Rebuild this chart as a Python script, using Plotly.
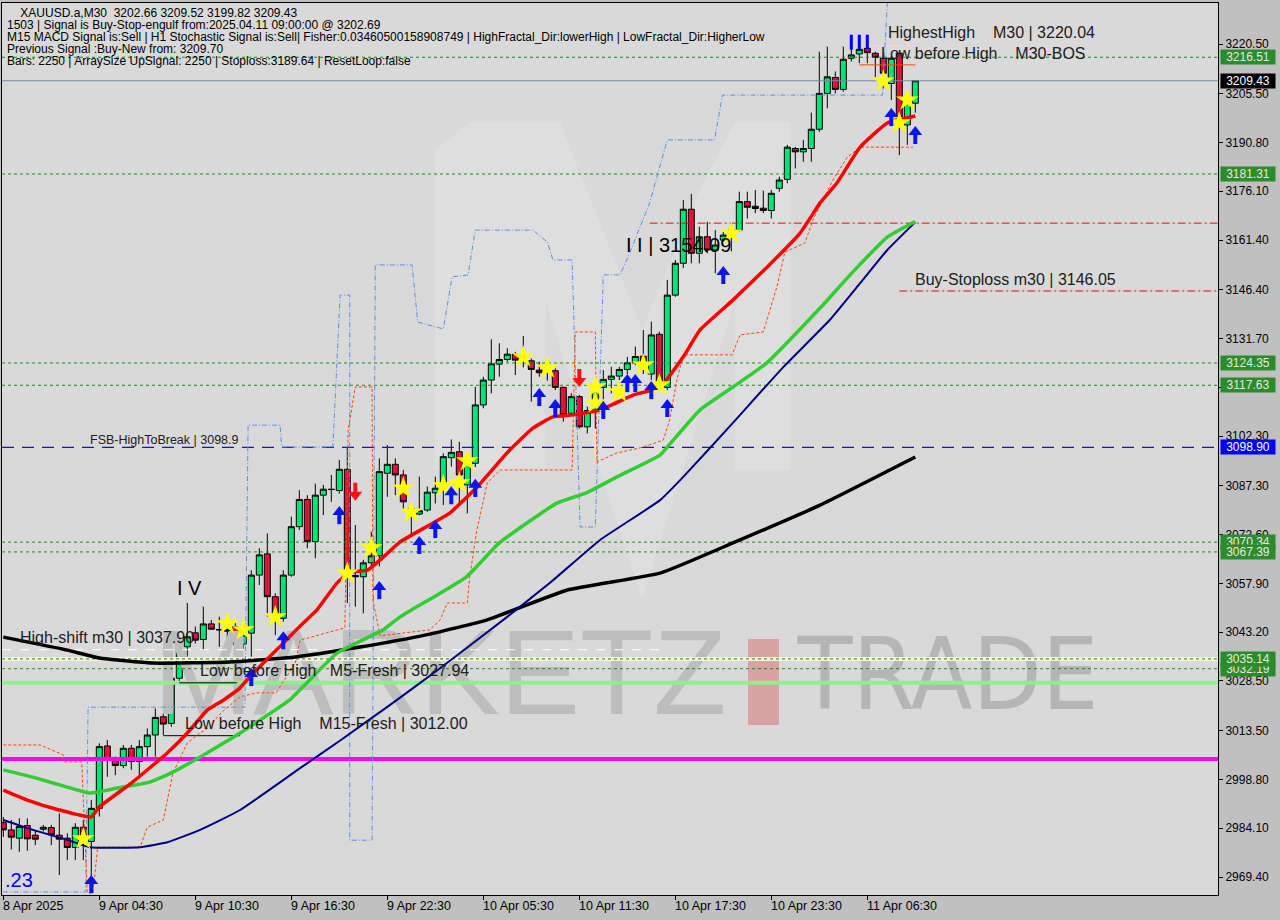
import plotly.graph_objects as go

# ---------------- data ----------------
bar_open = [2985.8, 2983.6, 2981.1, 2984.9, 2982.0, 2983.8, 2984.3, 2982.0, 2981.1, 2978.3,
            2984.4, 2980.1, 2990.1, 3008.9, 3004.6, 3003.0, 3008.2, 3004.2, 3008.7, 3012.2,
            3017.7, 3015.7, 3029.3, 3038.8, 3043.0, 3041.0, 3045.7, 3044.0, 3044.0, 3044.9,
            3039.6, 3042.9, 3060.4, 3066.8, 3053.9, 3047.4, 3060.4, 3075.0, 3083.2, 3070.5,
            3084.5, 3086.3, 3085.9, 3092.3, 3060.3, 3059.9, 3064.1, 3066.2, 3091.1, 3093.8,
            3090.6, 3080.5, 3078.8, 3080.0, 3085.2, 3086.3, 3095.8, 3097.6, 3087.6, 3094.1,
            3111.7, 3119.2, 3124.0, 3125.4, 3127.0, 3125.5, 3125.0, 3122.2, 3121.5, 3122.0,
            3117.0, 3109.2, 3114.2, 3105.1, 3110.2, 3117.0, 3119.4, 3120.4, 3122.4, 3124.4,
            3126.4, 3121.0, 3133.0, 3117.0, 3144.8, 3154.4, 3170.7, 3157.4, 3162.4, 3158.4,
            3161.4, 3163.0, 3164.4, 3173.0, 3171.6, 3171.0, 3170.3, 3177.0, 3179.7, 3189.0,
            3188.0, 3189.0, 3194.8, 3205.6, 3210.4, 3206.8, 3216.2, 3217.5, 3219.2, 3217.7,
            3216.2, 3208.6, 3217.7, 3196.1, 3202.66]
bar_high = [2987.5, 2986.6, 2987.1, 2987.1, 2983.6, 2985.1, 2985.1, 2988.6, 2982.6, 2985.6,
            2986.6, 2992.6, 3009.7, 3010.7, 3005.7, 3009.2, 3009.2, 3010.7, 3014.2, 3020.2,
            3018.7, 3032.8, 3041.5, 3052.0, 3044.9, 3050.9, 3046.9, 3047.9, 3046.0, 3045.9,
            3043.9, 3061.9, 3068.5, 3073.0, 3054.9, 3061.9, 3078.0, 3086.0, 3084.5, 3088.0,
            3087.6, 3090.6, 3095.1, 3099.0, 3075.5, 3065.0, 3073.5, 3095.6, 3099.6, 3095.6,
            3092.1, 3081.5, 3090.1, 3087.1, 3090.1, 3097.1, 3101.3, 3100.6, 3095.6, 3117.2,
            3120.2, 3131.5, 3130.3, 3128.8, 3127.7, 3132.5, 3125.7, 3124.7, 3124.0, 3122.7,
            3117.2, 3115.2, 3114.7, 3111.2, 3119.2, 3122.2, 3123.2, 3123.2, 3126.2, 3129.3,
            3134.3, 3136.8, 3133.8, 3149.4, 3155.4, 3173.5, 3175.3, 3165.4, 3166.9, 3164.4,
            3163.9, 3166.5, 3176.0, 3176.0, 3176.5, 3176.3, 3176.5, 3180.5, 3190.1, 3189.5,
            3191.6, 3199.8, 3218.2, 3219.7, 3212.2, 3219.7, 3219.7, 3220.04, 3219.7, 3218.2,
            3217.2, 3216.7, 3218.2, 3203.6, 3209.52]
bar_low = [2981.5, 2977.7, 2977.0, 2977.3, 2979.0, 2983.1, 2979.0, 2970.0, 2974.5, 2974.5,
           2974.5, 2965.0, 2987.6, 2999.6, 3000.1, 3002.2, 3001.7, 2999.1, 3005.7, 3005.7,
           3012.2, 3014.7, 3028.3, 3034.3, 3039.8, 3037.8, 3043.9, 3038.8, 3041.0, 3038.3,
           3038.0, 3035.8, 3057.4, 3047.9, 3042.3, 3046.4, 3059.9, 3074.0, 3068.5, 3065.5,
           3078.5, 3082.5, 3085.0, 3052.0, 3050.9, 3048.9, 3063.0, 3063.0, 3084.0, 3084.5,
           3080.0, 3072.0, 3078.5, 3079.5, 3082.0, 3081.5, 3093.1, 3082.0, 3079.0, 3093.0,
           3110.7, 3115.2, 3120.2, 3124.7, 3120.7, 3123.0, 3112.7, 3120.2, 3119.0, 3116.2,
           3106.7, 3108.7, 3104.6, 3103.1, 3104.6, 3110.2, 3115.2, 3119.2, 3121.0, 3123.7,
           3121.0, 3119.2, 3116.7, 3116.2, 3144.3, 3153.0, 3154.4, 3154.4, 3157.4, 3151.4,
           3160.9, 3158.0, 3163.9, 3167.9, 3169.5, 3169.5, 3167.9, 3176.0, 3178.5, 3183.0,
           3185.0, 3185.0, 3194.0, 3201.1, 3205.6, 3206.1, 3215.2, 3214.7, 3214.7, 3210.6,
           3207.1, 3203.6, 3187.0, 3190.1, 3199.82]
bar_close = [2983.6, 2981.4, 2984.6, 2980.9, 2980.8, 2984.4, 2982.1, 2980.8, 2978.3, 2984.4,
             2981.1, 2990.1, 3008.7, 3004.7, 3003.0, 3008.2, 3004.2, 3008.7, 3012.2, 3017.5,
             3015.5, 3029.3, 3038.8, 3041.8, 3040.8, 3045.7, 3044.1, 3043.9, 3043.5, 3039.6,
             3042.3, 3060.4, 3066.5, 3053.9, 3047.9, 3060.4, 3075.0, 3083.2, 3070.5, 3084.5,
             3086.3, 3086.2, 3092.3, 3061.4, 3059.9, 3064.1, 3066.2, 3091.6, 3093.8, 3090.6,
             3082.5, 3079.0, 3079.8, 3085.4, 3086.6, 3096.1, 3097.4, 3090.6, 3094.1, 3111.7,
             3119.2, 3124.1, 3125.4, 3127.0, 3125.2, 3125.8, 3122.4, 3121.4, 3121.8, 3117.0,
             3108.7, 3114.2, 3105.1, 3110.0, 3116.6, 3119.4, 3120.4, 3122.4, 3124.4, 3126.3,
             3124.4, 3132.8, 3117.2, 3144.8, 3154.4, 3170.7, 3157.4, 3162.4, 3158.4, 3159.9,
             3162.9, 3164.5, 3173.0, 3171.3, 3170.9, 3170.3, 3175.5, 3179.5, 3189.4, 3188.0,
             3189.0, 3194.8, 3205.6, 3210.6, 3206.8, 3215.9, 3217.2, 3218.9, 3217.9, 3216.5,
             3211.7, 3216.2, 3198.6, 3202.6, 3209.43]
bar_index = list(range(len(bar_open)))

time_tick_bars = [0, 12, 24, 36, 48, 60, 72, 84, 96, 108]
time_tick_text = ["8 Apr 2025", "9 Apr 04:30", "9 Apr 10:30", "9 Apr 16:30", "9 Apr 22:30",
                  "10 Apr 05:30", "10 Apr 11:30", "10 Apr 17:30", "10 Apr 23:30", "11 Apr 06:30"]
price_tick_vals = [3220.50, 3205.50, 3190.80, 3176.10, 3161.40, 3146.40, 3131.70, 3117.00, 3102.30,
                   3087.30, 3072.60, 3057.90, 3043.20, 3028.50, 3013.50, 2998.80, 2984.10, 2969.40]
hidden_tick_vals = [3117.00]  # label hidden behind a price tag in the reference

ma_red_x = [0, 3, 7, 11, 12, 16, 20.5, 23, 25.5, 27.5, 29.6, 30.8, 35, 37, 39.2, 41.7, 43.3, 45.5,
            47.5, 49.6, 55.8, 59.2, 63.3, 66.2, 68.7, 71.2, 74.6, 78.8, 82.1, 85, 87.1, 91.2, 95.5,
            99.6, 102.1, 104.2, 107.1, 110.5, 114]
ma_red_y = [2995.6, 2992.6, 2989.6, 2987.5, 2990.5, 2997.7, 3006.8, 3012.8, 3019.7, 3022.7, 3026.4,
            3029.7, 3039.9, 3044.8, 3049.9, 3058.0, 3061.3, 3061.9, 3065.8, 3070.4, 3079.1, 3086.9,
            3098.1, 3104.7, 3108.1, 3108.7, 3110.2, 3114.7, 3117.1, 3126.2, 3134.3, 3143.3, 3153.3,
            3163.5, 3172.6, 3178.6, 3189.4, 3196.7, 3198.8]
ma_green_x = [0, 3.7, 8, 10.8, 14.2, 18.3, 21.2, 24.6, 29.6, 35.8, 41.7, 47.5, 49.6, 57.9, 62, 69.2,
              72.9, 76.7, 82.1, 82.9, 87.1, 91.2, 95.4, 102.1, 106.2, 110.5, 114]
ma_green_y = [3001.7, 2999.5, 2996.5, 2994.7, 2996.2, 2998.0, 3001.0, 3005.6, 3012.8, 3022.8, 3036.9,
              3043.9, 3047.8, 3059.9, 3070.1, 3082.1, 3085.2, 3090.0, 3096.6, 3098.7, 3110.2, 3117.1,
              3124.3, 3140.9, 3151.8, 3162.3, 3167.0]
ma_navy_x = [0, 3.7, 8, 10.8, 17.1, 20.5, 24.6, 29.6, 37.1, 42.2, 48.7, 54.3, 62.5, 68.3, 74.6, 82.1,
             85, 91.2, 97.5, 103.3, 107.1, 110.5, 114]
ma_navy_y = [2986.6, 2983.6, 2980.6, 2978.4, 2978.4, 2979.9, 2983.6, 2989.6, 3002.2, 3010.7, 3021.9,
             3031.8, 3046.9, 3058.0, 3071.0, 3083.0, 3090.0, 3106.3, 3123.1, 3137.3, 3148.4, 3158.4,
             3166.8]
ma_black_x = [0, 8, 12, 18.6, 28.3, 36.5, 44.6, 52.7, 60.5, 70.5, 82.1, 91.2, 102.1, 114]
ma_black_y = [3041.7, 3037.8, 3035.4, 3033.9, 3034.2, 3035.7, 3038.7, 3042.3, 3046.9, 3055.9, 3061.0,
              3070.1, 3081.5, 3096.0]

upper_band_x = [0, 10.3, 10.6, 30.2, 30.6, 34.6, 34.8, 41.2, 42.1, 43.3, 43.3, 46.1, 46.5, 51.1, 51.8,
                55.0, 56.1, 58.1, 59.0, 66.2, 68.0, 68.7, 71.1, 72.1, 74.0, 75.0, 77.1, 78.3, 80.8,
                83.0, 88.9, 89.9, 109.9, 110.5]
upper_band_y = [2964.9, 2964.9, 3020.6, 3020.6, 3105.6, 3105.6, 3099.0, 3099.0, 3144.8, 3144.8, 2980.5,
                2980.5, 3153.9, 3153.9, 3136.7, 3134.6, 3150.3, 3150.9, 3164.4, 3164.4, 3160.8, 3155.4,
                3155.4, 3074.9, 3074.9, 3150.9, 3150.9, 3157.5, 3172.6, 3191.6, 3191.6, 3205.1, 3205.1,
                3232.9]
lower_band_x = [0, 4.6, 7.5, 7.5, 9.8, 10.5, 11.2, 11.8, 17.1, 18.0, 20.0, 21.2, 23.0, 24.6, 25.6, 27.3,
                29.6, 31.6, 34.1, 36.5, 37.1, 42.7, 43.1, 44.0, 46.1, 46.2, 47.1, 53.3, 54.6, 55.5, 58.0,
                58.3, 59.2, 60.5, 62.1, 71.1, 71.5, 74.0, 74.2, 76.7, 80.0, 82.5, 83.3, 84.2, 85.0,
                91.1, 92.1, 95.0, 96.7, 97.7, 100.2, 101.2, 103.7, 105.5, 107.1, 113.7]
lower_band_y = [3009.2, 3009.2, 3006.2, 3004.1, 3004.1, 2964.6, 2964.6, 2978.4, 2978.4, 2984.4, 2986.6,
                3000.7, 3009.8, 3012.8, 3014.3, 3019.1, 3023.7, 3024.9, 3024.9, 3033.9, 3040.8, 3044.5,
                3104.1, 3117.1, 3117.1, 3052.9, 3042.1, 3043.9, 3046.9, 3052.0, 3052.0, 3059.8, 3074.0,
                3088.2, 3092.1, 3092.1, 3133.7, 3133.7, 3094.5, 3097.2, 3099.0, 3101.1, 3107.2, 3119.2,
                3126.8, 3126.8, 3132.8, 3133.7, 3147.3, 3157.8, 3160.5, 3167.4, 3179.5, 3186.4, 3189.4,
                3189.4]

star_bars = [10, 28, 30, 34, 43, 46, 50, 51, 55, 57, 58, 65, 68, 74, 74, 77, 80, 82, 91, 110, 112, 113]
star_prices = [2980.9, 3045.7, 3043.9, 3047.8, 3061.0, 3068.6, 3086.6, 3079.4, 3087.3, 3088.2, 3094.8,
               3126.2, 3122.8, 3117.1, 3112.3, 3115.6, 3123.7, 3117.7, 3163.5, 3209.3, 3196.7, 3203.6]
up_arrow_bars = [11, 31, 35, 42, 47, 52, 54, 56, 59, 67, 69, 75, 78, 79, 81, 83, 90, 111, 114]
up_arrow_prices = [2967.3, 3029.7, 3040.8, 3078.5, 3055.9, 3069.5, 3074.3, 3084.5, 3086.7, 3114.1,
                   3110.8, 3110.2, 3118.3, 3118.3, 3116.2, 3110.8, 3150.9, 3198.5, 3193.1]
down_arrow_bars = [44, 72]
down_arrow_prices = [3085.5, 3119.8]
fractal_bars = [106, 107, 108]
fractal_top, fractal_bottom = 3223.3, 3218.8

green_levels = [3216.51, 3181.31, 3124.35, 3117.63, 3070.34, 3067.39, 3032.19, 3035.14]
fsb_level = 3098.90
last_price = 3209.43
high_shift_level = 3037.90
fresh_m5_level = 3027.94
fresh_m15_level = 3012.00
magenta_level = 3005.0
beige_level = 3035.14
stoploss_level = 3146.05
red_dd_level = 3166.5
highest_high = 3220.04
bos_level = 3214.2

# ---------------- geometry ----------------
W, H = 1280, 920
ML, MR, MT, MB = 2, 62, 3, 25
PW, PH = W - ML - MR, H - MT - MB
BAR_PX = 8.0
FIRST_BAR_PX = 3.3
x_lo = -(FIRST_BAR_PX - ML) / BAR_PX
x_hi = x_lo + PW / BAR_PX
PRICE_PER_PX = 251.1 / 833.0
y_hi = 3220.5 + (44 - MT) * PRICE_PER_PX
y_lo = y_hi - PH * PRICE_PER_PX

FONT = "Liberation Sans, Arial, sans-serif"


def px_x(px):
    return (px - ML) / PW


def px_y(py):
    return 1 - (py - MT) / PH


def bar_at(px):
    return (px - FIRST_BAR_PX) / BAR_PX


def price_at(py):
    return y_hi - (py - MT) * PRICE_PER_PX


fig = go.Figure()

# watermark text (bottom-most trace)
fig.add_trace(go.Scatter(x=[bar_at(440)], y=[price_at(684)], mode="text", text=["MARKETZ"],
                         textfont=dict(size=120, color="#bdbdbd", family="Liberation Sans, Arial"),
                         textposition="middle center", hoverinfo="skip", showlegend=False))
fig.add_trace(go.Scatter(x=[bar_at(948)], y=[price_at(684)], mode="text", text=["TRADE"],
                         textfont=dict(size=100, color="#b5b5b5",
                                       family="Liberation Sans Narrow, DejaVu Sans Condensed, Liberation Sans"),
                         textposition="middle center", hoverinfo="skip", showlegend=False))


def hline(level, color, width, dash="solid", x0=None, x1=None):
    fig.add_trace(go.Scatter(x=[x_lo if x0 is None else x0, x_hi if x1 is None else x1],
                             y=[level, level], mode="lines",
                             line=dict(color=color, width=width, dash=dash),
                             hoverinfo="skip", showlegend=False))


hline(magenta_level, "#ff00ff", 4)
hline(fresh_m5_level, "#90ee90", 4)
hline(beige_level, "#f3f3d8", 4)
hline(high_shift_level, "#ffffff", 1, "dash", x1=bar_at(660))
for lv in green_levels:
    hline(lv, "#1a8a1a", 1, "3px,3px")
hline(fsb_level, "#1414c8", 1.2, "12px,8px")
hline(last_price, "#7a8aa8", 1)
hline(red_dd_level, "#e01010", 1, "8px,3px,2px,3px", x0=80.8)
hline(stoploss_level, "#e01010", 1, "8px,3px,2px,3px", x0=112.0)
hline(highest_high, "#ffff00", 1, x0=108.2, x1=114)
hline(bos_level, "#ff4500", 1, x0=107.0, x1=114)
# brackets of the fresh levels
fig.add_trace(go.Scatter(x=[22, 29.2], y=[fresh_m5_level, fresh_m5_level], mode="lines",
                         line=dict(color="#000000", width=1), hoverinfo="skip", showlegend=False))
fig.add_trace(go.Scatter(x=[20, 29.6], y=[fresh_m15_level, fresh_m15_level], mode="lines",
                         line=dict(color="#000000", width=1), hoverinfo="skip", showlegend=False))

# envelope step lines
fig.add_trace(go.Scatter(x=upper_band_x, y=upper_band_y, mode="lines",
                         line=dict(color="#5a8ee8", width=1, dash="5px,2px,1px,2px"),
                         hoverinfo="skip", showlegend=False))
fig.add_trace(go.Scatter(x=lower_band_x, y=lower_band_y, mode="lines",
                         line=dict(color="#ff4500", width=1, dash="3px,2px"),
                         hoverinfo="skip", showlegend=False))

# candles
fig.add_trace(go.Candlestick(x=bar_index, open=bar_open, high=bar_high, low=bar_low, close=bar_close,
                             increasing=dict(line=dict(color="#000000", width=1), fillcolor="#00e676"),
                             decreasing=dict(line=dict(color="#000000", width=1), fillcolor="#dc143c"),
                             whiskerwidth=0, hoverinfo="skip", showlegend=False))

# moving averages
for xs, ys, col, wd in [(ma_black_x, ma_black_y, "#000000", 3.5), (ma_navy_x, ma_navy_y, "#000080", 2),
                        (ma_green_x, ma_green_y, "#32cd32", 3.5), (ma_red_x, ma_red_y, "#ff0000", 3.5)]:
    fig.add_trace(go.Scatter(x=xs, y=ys, mode="lines", line=dict(color=col, width=wd, shape="spline",
                                                                   smoothing=0.4),
                             hoverinfo="skip", showlegend=False))

# fractal bars
fx, fy = [], []
for b in fractal_bars:
    fx += [b, b, None]
    fy += [fractal_bottom, fractal_top, None]
fig.add_trace(go.Scatter(x=fx, y=fy, mode="lines", line=dict(color="#0000ff", width=3),
                         hoverinfo="skip", showlegend=False))

# signals
fig.add_trace(go.Scatter(x=star_bars, y=star_prices, mode="markers",
                         marker=dict(symbol="star", size=17, color="#ffff00", line=dict(width=0)),
                         hoverinfo="skip", showlegend=False))


def arrows(bars, prices, color, up=True):
    s = 1 if up else -1
    head = [p + s * 3.0 * PRICE_PER_PX for p in prices]
    shaft = [p - s * 3.5 * PRICE_PER_PX for p in prices]
    fig.add_trace(go.Scatter(x=bars, y=shaft, mode="markers",
                             marker=dict(symbol="line-ns", size=8, line=dict(color=color, width=4)),
                             hoverinfo="skip", showlegend=False))
    fig.add_trace(go.Scatter(x=bars, y=head, mode="markers",
                             marker=dict(symbol="triangle-up" if up else "triangle-down", size=12,
                                         color=color, line=dict(width=0)),
                             hoverinfo="skip", showlegend=False))


arrows(up_arrow_bars, up_arrow_prices, "#0a14f0", True)
arrows(down_arrow_bars, down_arrow_prices, "#ff1010", False)

# ---------------- annotations ----------------
ann = []


def text_px(text, px, py, size, color="#000000", family=FONT):
    ann.append(dict(text=text, xref="paper", yref="paper", x=px_x(px), y=px_y(py),
                    xanchor="left", yanchor="middle", showarrow=False,
                    font=dict(size=size, color=color, family=family)))


NB = "\u00a0"
header = [
    NB * 4 + "XAUUSD.a,M30" + NB * 2 + "3202.66 3209.52 3199.82 3209.43",
    "1503 | Signal is Buy-Stop-engulf from:2025.04.11 09:00:00 @ 3202.69",
    "M15 MACD Signal is:Sell | H1 Stochastic Signal is:Sell| Fisher:0.03460500158908749 | "
    "HighFractal_Dir:lowerHigh | LowFractal_Dir:HigherLow",
    "Previous Signal :Buy-New from: 3209.70",
    "Bars: 2250 | ArraySize UpSignal: 2250 | Stoploss:3189.64 | ResetLoop:false",
]
for k, line in enumerate(header):
    text_px(line, 5, 12.5 + 12.2 * k, 12)

text_px("FSB-HighToBreak | 3098.9", 88, 440, 12.5, "#202020")
text_px("High-shift m30 | 3037.90", 18, 637, 16, "#202020")
text_px("Low before High" + NB * 3 + "M5-Fresh | 3027.94", 198, 670, 16, "#202020")
text_px("Low before High" + NB * 4 + "M15-Fresh | 3012.00", 183, 723, 16, "#202020")
text_px("I V", 175, 588, 20, "#000000")
text_px("I I | 3154.09", 624, 245, 20, "#000000")
text_px("HighestHigh" + NB * 4 + "M30 | 3220.04", 886, 33, 16, "#202020")
text_px("Low before High" + NB * 4 + "M30-BOS", 879, 53, 16, "#202020")
text_px("Buy-Stoploss m30 | 3146.05", 913, 279, 16, "#202020")
text_px(".23", 3, 880, 20, "#0000ff")

# time labels
for b, t in zip(time_tick_bars, time_tick_text):
    ann.append(dict(text=t, xref="x", yref="paper", x=b, y=px_y(906), xanchor="left", yanchor="middle",
                    xshift=-2, showarrow=False, font=dict(size=12.5, color="#000000", family=FONT)))

# price tags on the axis
tags = [(3216.51, "#2a8c2a", "#e8e8e8"), (3181.31, "#2a8c2a", "#e8e8e8"), (3124.35, "#2a8c2a", "#e8e8e8"),
        (3117.63, "#2a8c2a", "#e8e8e8"), (3070.34, "#2a8c2a", "#e8e8e8"), (3067.39, "#2a8c2a", "#e8e8e8"),
        (3032.19, "#2a8c2a", "#e8e8e8"), (3035.14, "#2a8c2a", "#e8e8e8"), (fsb_level, "#0000ff", "#ffffff"),
        (last_price, "#000000", "#ffffff")]
for v, bg, fc in tags:
    ann.append(dict(text=f"{v:.2f}", xref="paper", yref="y", x=1, y=v, xanchor="left", yanchor="middle",
                    xshift=2, showarrow=False, bgcolor=bg, width=52, height=12, borderpad=1,
                    font=dict(size=12, color=fc, family=FONT)))

# ---------------- watermark shapes ----------------
m_logo = [(435, 470), (435, 150), (470, 122), (560, 122), (642, 330), (700, 190), (735, 122), (790, 122),
          (790, 470), (735, 470), (735, 300), (642, 600), (545, 300), (545, 470)]
path = "M " + " L ".join(f"{px_x(a):.4f},{px_y(b):.4f}" for a, b in m_logo) + " Z"
shapes = [
    dict(type="path", xref="paper", yref="paper", path=path, fillcolor="rgba(255,255,255,0.14)",
         line=dict(width=0), layer="below"),
    dict(type="rect", xref="paper", yref="paper", x0=px_x(748), x1=px_x(779), y0=px_y(725), y1=px_y(639),
         fillcolor="#d9a3a3", line=dict(width=0), layer="below"),
]

fig.update_layout(
    width=W, height=H, margin=dict(l=ML, r=MR, t=MT, b=MB),
    paper_bgcolor="#c0c0c0", plot_bgcolor="#d9d9d9",
    showlegend=False, hovermode=False, boxgap=0.25, boxgroupgap=0,
    annotations=ann, shapes=shapes,
    xaxis=dict(range=[x_lo, x_hi], rangeslider=dict(visible=False), showgrid=False, zeroline=False,
               tickvals=time_tick_bars, ticktext=[""] * len(time_tick_bars), ticks="outside", ticklen=4,
               tickcolor="#000000", showline=True, linecolor="#000000", linewidth=1, mirror=True,
               fixedrange=True),
    yaxis=dict(range=[y_lo, y_hi], side="right", showgrid=False, zeroline=False,
               tickvals=price_tick_vals,
               ticktext=["" if v in hidden_tick_vals else f"{v:.2f}" for v in price_tick_vals],
               ticks="outside", ticklen=4, tickcolor="#000000",
               tickfont=dict(size=12, color="#000000", family=FONT),
               showline=True, linecolor="#000000", linewidth=1, mirror=True, fixedrange=True),
)

fig.write_html("out.html", config={"displayModeBar": False},
               post_script="document.body.style.margin='0';document.body.style.overflow='hidden';")
